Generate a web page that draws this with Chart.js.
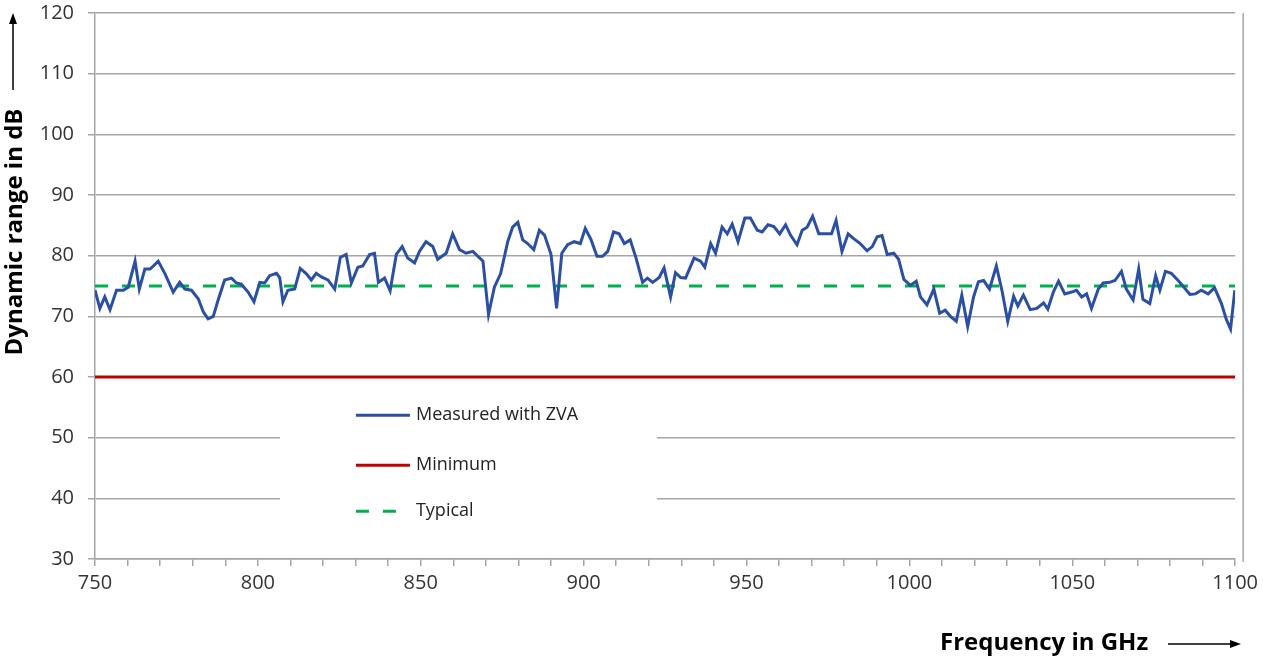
<!DOCTYPE html>
<html>
<head>
<meta charset="utf-8">
<script src="https://cdn.jsdelivr.net/npm/chart.js@4/dist/chart.umd.min.js"></script>
<style>
  html, body { margin: 0; padding: 0; background: #fff; overflow: hidden; }
  #wrap { width: 1263px; height: 670px; position: relative; top: -13px; }
</style>
</head>
<body>
<div id="wrap"><canvas id="linechart"></canvas></div>
<script>
// measured curve (GHz / dB)
const freq = [
  750, 751.5, 753, 754.6, 756.6, 758.7, 760.2, 762.3, 763.6, 765.3, 766.9, 767.9, 769.4, 771.5, 774, 776, 777.6, 779.6,
  781.7, 783.2, 784.7, 786.3, 787.8, 789.8, 791.9, 793.4, 794.9, 797, 798.8, 800.6, 802.1, 803.6, 805.7, 806.7,
  807.7, 809.2, 811.3, 813, 814.9, 816.4, 817.9, 819.5, 821.5, 823.6, 825.3, 827.1, 828.7, 830.7, 832.2, 834.3,
  835.8, 837, 838.9, 840.6, 842.5, 844.3, 846, 848.1, 849.6, 851.6, 853.7, 855.2, 857.8, 859.8, 861.9, 863.9, 866,
  869.1, 870.8, 872.6, 874.5, 876.7, 878.2, 879.8, 881.3, 882.8, 884.7, 886.4, 888, 890, 891.7, 893.3, 895.1, 897.1,
  899, 900.5, 902.3, 904.1, 905.8, 907.4, 909.2, 910.9, 912.5, 914.3, 916.1, 918.1, 919.6, 921.2, 923.2, 924.7,
  926.7, 928.2, 929.8, 931.3, 933.9, 935.9, 937.2, 939, 940.5, 942.5, 944.1, 945.6, 947.4, 949.5, 951.2, 953.3,
  954.8, 956.6, 958.4, 960.2, 962, 963.5, 965.5, 967.1, 968.6, 970.3, 972.2, 974.2, 976.1, 977.5, 979.3, 981.2,
  982.9, 984.9, 987, 988.6, 990.1, 991.6, 993.2, 995.2, 996.7, 998.3, 1000.3, 1002.1, 1003.4, 1005.4, 1007.5,
  1009.3, 1011, 1012.6, 1014.4, 1016.1, 1017.9, 1019.7, 1021.2, 1022.8, 1024.6, 1026.7, 1028.4, 1030.2, 1032,
  1033.3, 1035, 1037.1, 1039.1, 1041.2, 1042.5, 1044.2, 1045.8, 1047.7, 1049.8, 1051.3, 1052.9, 1054.4, 1055.9,
  1058, 1059.5, 1061.5, 1063.1, 1065.1, 1066.6, 1068.7, 1070.4, 1071.7, 1073.8, 1075.6, 1076.9, 1078.6, 1080.4,
  1082.5, 1084.3, 1086.1, 1087.8, 1089.6, 1091.7, 1093.7, 1095.8, 1097.3, 1098.6, 1099.9
];
const measured = [
  74.3, 71.3, 73.2, 71.1, 74.3, 74.3, 74.8, 79.1, 74.5, 77.8, 77.8, 78.3, 79.1, 77, 74, 75.6, 74.5, 74.3,
  72.9, 70.8, 69.6, 70, 72.7, 76, 76.3, 75.5, 75.3, 74, 72.4, 75.6, 75.5, 76.7, 77.1, 76.4,
  72.4, 74.3, 74.5, 77.9, 77, 76, 77.1, 76.5, 76, 74.5, 79.7, 80.2, 75.5, 78.1, 78.3, 80.2,
  80.4, 75.6, 76.3, 74.2, 80.2, 81.5, 79.6, 78.8, 80.7, 82.3, 81.5, 79.4, 80.4, 83.6, 81, 80.4, 80.7,
  79.1, 70.3, 74.8, 77, 82.3, 84.7, 85.5, 82.6, 82, 81, 84.2, 83.4, 80.2, 71.3, 80.4, 81.8, 82.3,
  82, 84.5, 82.6, 79.9, 79.9, 80.7, 83.9, 83.6, 82, 82.6, 79.6, 75.6, 76.3, 75.6, 76.4, 78,
  73.2, 77.2, 76.4, 76.3, 79.6, 79.1, 78.1, 82, 80.4, 84.7, 83.6, 85.2, 82.3, 86.2, 86.2, 84.2,
  83.9, 85.1, 84.8, 83.6, 85.1, 83.4, 81.8, 84.2, 84.7, 86.5, 83.6, 83.6, 83.6, 85.8, 80.7, 83.6,
  82.8, 82, 80.8, 81.5, 83.1, 83.3, 80.2, 80.4, 79.4, 76.1, 75.1, 75.8, 73.2, 71.9, 74.5,
  70.5, 71, 70, 69.2, 73.5, 68.3, 73.2, 75.7, 75.9, 74.5, 78.3, 74.3, 69.2, 73.3,
  71.7, 73.5, 71.1, 71.3, 72.2, 71.2, 74, 75.8, 73.7, 74, 74.3, 73.2, 73.7, 71.3,
  74.5, 75.5, 75.6, 75.9, 77.4, 74.5, 72.7, 77.8, 72.8, 72.1, 76.7, 74.3, 77.4, 77.1,
  75.9, 74.8, 73.6, 73.7, 74.3, 73.7, 74.7, 72.1, 69.5, 67.9, 74.3
];
const limitFreq = [750, 1100];
const minimumDb = [60, 60];
const typicalDb = [75, 75];
const seriesNames = ['Measured with ZVA', 'Minimum', 'Typical'];
const yTitle = 'Dynamic range in dB';
const xTitle = 'Frequency in GHz';

const font = '"Open Sans", "DejaVu Sans", sans-serif';
const gridColor = '#a6a6a6';
const shift = 13; // canvas sits 13px above the page top

function pts(xs, ys) { return xs.map(function (x, i) { return { x: x, y: ys[i] }; }); }

// legend box, axis titles with arrows, right frame line
const decor = {
  id: 'decor',
  afterDraw(chart) {
    const ctx = chart.ctx;
    const a = chart.chartArea;
    const xs = chart.scales.x, ys = chart.scales.y;
    ctx.save();
    // right frame
    ctx.strokeStyle = gridColor; ctx.lineWidth = 1.5;
    ctx.beginPath(); ctx.moveTo(a.right + 8, a.top); ctx.lineTo(a.right + 8, a.bottom + 3); ctx.stroke();

    // legend
    const lx = xs.getPixelForValue(808), ly = ys.getPixelForValue(56.5);
    ctx.fillStyle = '#fff';
    ctx.fillRect(lx - 4, ly - 8, 377, 137);
    const rows = [0, 50, 96];
    chart.data.datasets.forEach(function (ds, i) {
      const y = ly + 17 + rows[i];
      ctx.strokeStyle = ds.borderColor; ctx.lineWidth = 3;
      ctx.setLineDash(ds.borderDash || []);
      ctx.beginPath(); ctx.moveTo(lx + 72, y); ctx.lineTo(lx + 126, y); ctx.stroke();
      ctx.setLineDash([]);
      ctx.fillStyle = '#222'; ctx.font = '18px ' + font;
      ctx.textBaseline = 'middle'; ctx.textAlign = 'left';
      ctx.fillText(ds.label, lx + 132, y);
    });

    // titles are placed in page coordinates
    ctx.translate(0, shift);
    ctx.fillStyle = '#000'; ctx.strokeStyle = '#000'; ctx.lineWidth = 1.5;
    ctx.font = 'bold 24px ' + font;
    ctx.save();
    ctx.translate(15, 232); ctx.rotate(-Math.PI / 2);
    ctx.textAlign = 'center'; ctx.textBaseline = 'middle';
    ctx.fillText(yTitle, 0, 0);
    ctx.restore();
    ctx.beginPath(); ctx.moveTo(13, 90); ctx.lineTo(13, 20); ctx.stroke();
    ctx.beginPath(); ctx.moveTo(13, 13); ctx.lineTo(9, 24); ctx.lineTo(17, 24); ctx.closePath(); ctx.fill();

    ctx.textAlign = 'left'; ctx.textBaseline = 'middle';
    ctx.fillText(xTitle, 940, 643);
    ctx.beginPath(); ctx.moveTo(1168, 644); ctx.lineTo(1232, 644); ctx.stroke();
    ctx.beginPath(); ctx.moveTo(1241, 644); ctx.lineTo(1230, 640); ctx.lineTo(1230, 648); ctx.closePath(); ctx.fill();
    ctx.restore();
  }
};

const config = {
  type: 'line',
  data: {
    datasets: [{
      label: seriesNames[0],
      data: pts(freq, measured),
      borderColor: '#2a4fa3',
      borderWidth: 3,
      pointRadius: 0,
      tension: 0
    }, {
      label: seriesNames[1],
      data: pts(limitFreq, minimumDb),
      borderColor: '#c00000',
      borderWidth: 3,
      pointRadius: 0
    }, {
      label: seriesNames[2],
      data: pts(limitFreq, typicalDb),
      borderColor: '#00b050',
      borderWidth: 3,
      borderDash: [13, 14],
      pointRadius: 0
    }]
  },
  options: {
    responsive: true,
    maintainAspectRatio: false,
    animation: false,
    layout: { padding: { left: 0, top: 0, right: 24, bottom: 0 } },
    plugins: { legend: { display: false }, tooltip: { enabled: false } },
    scales: {
      x: {
        type: 'linear', min: 750, max: 1100,
        afterFit: function (s) { s.height = 98; },
        ticks: {
          stepSize: 10, autoSkip: false, maxRotation: 0, padding: 5,
          color: '#333', font: { family: font, size: 20 },
          callback: function (v) { return v % 50 === 0 ? String(v) : ''; }
        },
        grid: { drawOnChartArea: false, drawTicks: true, tickLength: 7, color: gridColor, lineWidth: 1.5 },
        border: { color: gridColor, width: 1.5 }
      },
      y: {
        min: 30, max: 120,
        afterFit: function (s) { s.width = 95; },
        ticks: { stepSize: 10, padding: 14, color: '#333', font: { family: font, size: 20 } },
        grid: { color: gridColor, lineWidth: 1.5, tickLength: 7 },
        border: { color: gridColor, width: 1.5 }
      }
    }
  },
  plugins: [decor]
};

const linechart = new Chart(document.getElementById('linechart'), config);
</script>
</body>
</html>
